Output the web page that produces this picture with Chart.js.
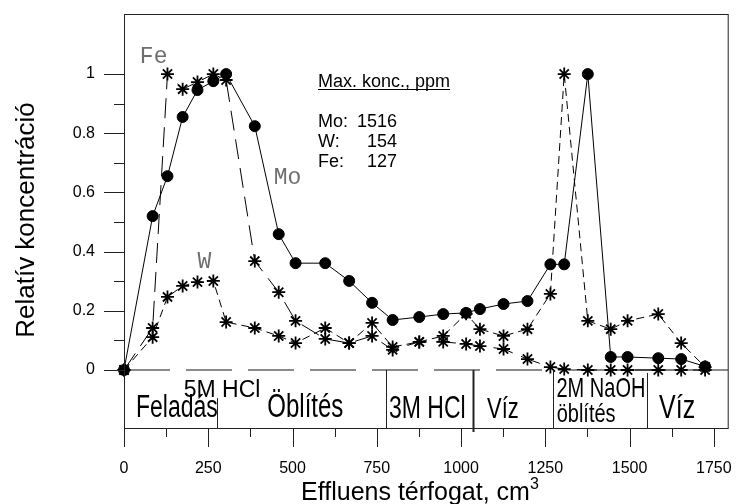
<!DOCTYPE html>
<html>
<head>
<meta charset="utf-8">
<script src="https://cdn.jsdelivr.net/npm/chart.js@4.4.1/dist/chart.umd.min.js"></script>
<style>
  body { margin: 0; background: #fff; }
  #wrap { width: 737px; height: 504px; }
</style>
</head>
<body>
<div id="wrap"><canvas id="elution"></canvas></div>
<script>
// Effluent volumes (cm3) and relative concentrations
const volumes = [0, 85, 129, 174, 218, 265, 303, 388, 459, 509, 597, 668, 736, 797, 876, 947, 1015, 1056, 1126, 1197, 1265, 1306, 1376, 1444, 1494, 1585, 1653, 1724];
const moValues = [0, 0.52, 0.655, 0.855, 0.946, 0.976, 1.0, 0.824, 0.459, 0.361, 0.361, 0.301, 0.227, 0.169, 0.179, 0.189, 0.193, 0.206, 0.223, 0.233, 0.357, 0.357, 1.0, 0.044, 0.044, 0.04, 0.037, 0.012];
const feValues = [0, 0.142, 1.0, 0.949, 0.973, 1.0, 0.98, 0.368, 0.263, 0.166, 0.105, 0.091, 0.115, 0.068, 0.095, 0.095, 0.088, 0.081, 0.071, 0.037, 0.01, 0.003, 0, 0, 0, 0, 0, 0];
const wValues = [0, 0.111, 0.247, 0.284, 0.297, 0.301, 0.162, 0.142, 0.115, 0.091, 0.142, 0.091, 0.159, 0.078, 0.095, 0.115, 0.19, 0.138, 0.115, 0.138, 0.257, 1.0, 0.166, 0.138, 0.166, 0.189, 0.091, 0.01];

const xTicks = [0, 250, 500, 750, 1000, 1250, 1500, 1750];
const yTicks = [0, 0.2, 0.4, 0.6, 0.8, 1];

// elution steps: boundaries (cm3) and names
const stepBounds = [276, 776, 1035, 1274, 1553];
const stepNames = ["Feladás", "5M HCl", "Öblítés", "3M HCl", "Víz", "2M NaOH", "öblítés", "Víz"];
const maxConc = [["Mo:", "1516"], ["W:", "154"], ["Fe:", "127"]];

const SANS = "'Liberation Sans', Arial, sans-serif";

function pts(vals) {
    return volumes.map((v, i) => ({ x: v, y: vals[i] }));
}

// layout of the step labels: [x in cm3, baseline px, font px, vertical stretch]
const stepLayout = [
    [157, 417, 23, 1.35],
    [291, 397, 23, 1.05],
    [538, 417, 24, 1.35],
    [900, 418, 23, 1.4],
    [1124, 418, 22, 1.35],
    [1415, 397, 20, 1.35],
    [1371, 422, 20, 1.3],
    [1641, 418, 25, 1.35]
];
// step separators: [top value, bottom overshoot px, width]
const sepLayout = [[-0.095, 0, 1], [0, 0, 1], [0, 4, 2], [0, 0, 1], [-0.01, 0, 1]];

function noPad(s) {
    s.paddingLeft = 0; s.paddingRight = 0; s.paddingTop = 0; s.paddingBottom = 0;
}

const decor = {
    id: "decor",
    beforeDatasetsDraw(chart) {
        const { ctx, chartArea: a, scales: { y } } = chart;
        ctx.save();
        // dashed zero line
        ctx.strokeStyle = "#8a8a8a";
        ctx.lineWidth = 2;
        ctx.setLineDash([46, 16]);
        ctx.beginPath();
        ctx.moveTo(a.left, y.getPixelForValue(0));
        ctx.lineTo(a.right, y.getPixelForValue(0));
        ctx.stroke();
        ctx.restore();
    },
    afterDraw(chart) {
        const { ctx, chartArea: a, scales: { x, y } } = chart;
        ctx.save();
        ctx.strokeStyle = "#222";
        ctx.lineWidth = 1;
        ctx.strokeRect(a.left + 0.5, a.top + 0.5, a.right - a.left - 1, a.bottom - a.top);

        // tick marks, outside
        ctx.beginPath();
        yTicks.forEach(v => {
            const py = Math.round(y.getPixelForValue(v)) + 0.5;
            ctx.moveTo(a.left - 20, py); ctx.lineTo(a.left, py);
            if (v < 1) {
                const pm = Math.round(y.getPixelForValue(v + 0.1)) + 0.5;
                ctx.moveTo(a.left - 10, pm); ctx.lineTo(a.left, pm);
            }
        });
        xTicks.forEach(v => {
            const px = Math.round(x.getPixelForValue(v)) + 0.5;
            ctx.moveTo(px, a.bottom); ctx.lineTo(px, a.bottom + 19);
            const pm = Math.round(x.getPixelForValue(v + 125)) + 0.5;
            if (v + 125 < x.max) { ctx.moveTo(pm, a.bottom); ctx.lineTo(pm, a.bottom + 9); }
        });
        ctx.stroke();

        // step separators
        stepBounds.forEach((b, i) => {
            const [top, over, w] = sepLayout[i];
            const px = Math.round(x.getPixelForValue(b)) + 0.5;
            ctx.lineWidth = w;
            ctx.beginPath();
            ctx.moveTo(px, y.getPixelForValue(top));
            ctx.lineTo(px, a.bottom + over);
            ctx.stroke();
        });

        // step names
        ctx.fillStyle = "#000";
        ctx.textAlign = "center";
        ctx.textBaseline = "alphabetic";
        stepNames.forEach((t, i) => {
            const [vx, base, size, sy] = stepLayout[i];
            ctx.save();
            ctx.translate(x.getPixelForValue(vx), base);
            ctx.scale(1, sy);
            ctx.font = size + "px " + SANS;
            ctx.fillText(t, 0, 0);
            ctx.restore();
        });

        // curve names
        ctx.font = "23px 'Liberation Mono', 'Courier New', monospace";
        ctx.fillStyle = "#6e6e6e";
        ctx.textAlign = "left";
        ctx.textBaseline = "middle";
        ctx.fillText("Fe", x.getPixelForValue(47), y.getPixelForValue(1.057));
        ctx.fillText("Mo", x.getPixelForValue(444), y.getPixelForValue(0.649));
        ctx.fillText("W", x.getPixelForValue(218), y.getPixelForValue(0.365));

        // max concentration box
        ctx.fillStyle = "#000";
        ctx.textBaseline = "alphabetic";
        ctx.font = "18px " + SANS;
        const title = "Max. konc., ppm";
        ctx.fillText(title, 318, 87);
        ctx.fillRect(318, 89, ctx.measureText(title).width, 1);
        maxConc.forEach(([k, v], i) => {
            ctx.textAlign = "left";
            ctx.fillText(k, 318, 127 + i * 20);
            ctx.textAlign = "right";
            ctx.fillText(v, 397, 127 + i * 20);
        });

        // axis titles
        ctx.font = "25px " + SANS;
        ctx.textAlign = "left";
        const xt = "Effluens térfogat, cm";
        const xw = ctx.measureText(xt).width;
        const x0 = 420 - (xw + 9) / 2;
        ctx.fillText(xt, x0, 500);
        ctx.font = "16px " + SANS;
        ctx.fillText("3", x0 + xw, 489);

        ctx.font = "26px " + SANS;
        ctx.translate(34, 220);
        ctx.rotate(-Math.PI / 2);
        ctx.textAlign = "center";
        ctx.fillText("Relatív koncentráció", 0, 0);
        ctx.restore();
    }
};

new Chart(document.getElementById("elution"), {
    type: "line",
    data: {
        datasets: [
            {
                label: "Mo",
                data: pts(moValues),
                borderColor: "#000",
                borderWidth: 1,
                pointStyle: "circle",
                pointRadius: 5.5,
                pointBackgroundColor: "#000",
                pointBorderColor: "#000",
                clip: false
            },
            {
                label: "Fe",
                data: pts(feValues),
                borderColor: "#000",
                borderWidth: 1,
                borderDash: [20, 9],
                pointStyle: "star",
                pointRadius: 6.5,
                pointBorderWidth: 1.8,
                pointBorderColor: "#000",
                clip: false
            },
            {
                label: "W",
                data: pts(wValues),
                borderColor: "#000",
                borderWidth: 1,
                borderDash: [8, 5],
                pointStyle: "star",
                pointRadius: 6.5,
                pointBorderWidth: 1.8,
                pointBorderColor: "#000",
                clip: false
            }
        ]
    },
    options: {
        responsive: true,
        maintainAspectRatio: false,
        animation: false,
        layout: { padding: { top: 14, right: 3, left: 0, bottom: 0 } },
        plugins: { legend: { display: false }, tooltip: { enabled: false } },
        scales: {
            x: {
                type: "linear",
                min: 0,
                max: 1794,
                afterFit: s => { s.height = 76; noPad(s); },
                afterBuildTicks: s => { s.ticks = xTicks.map(v => ({ value: v })); },
                grid: { display: false, drawTicks: false },
                border: { display: false },
                ticks: {
                    color: "#000",
                    padding: 31,
                    maxRotation: 0,
                    font: { size: 16, family: SANS },
                    callback: v => String(v)
                }
            },
            y: {
                min: -0.196,
                max: 1.203,
                afterFit: s => { s.width = 124; noPad(s); },
                afterBuildTicks: s => { s.ticks = yTicks.map(v => ({ value: v })); },
                grid: { display: false, drawTicks: false },
                border: { display: false },
                ticks: {
                    color: "#000",
                    padding: 29,
                    font: { size: 16, family: SANS },
                    callback: v => String(+v.toFixed(1))
                }
            }
        }
    },
    plugins: [decor]
});
</script>
</body>
</html>
